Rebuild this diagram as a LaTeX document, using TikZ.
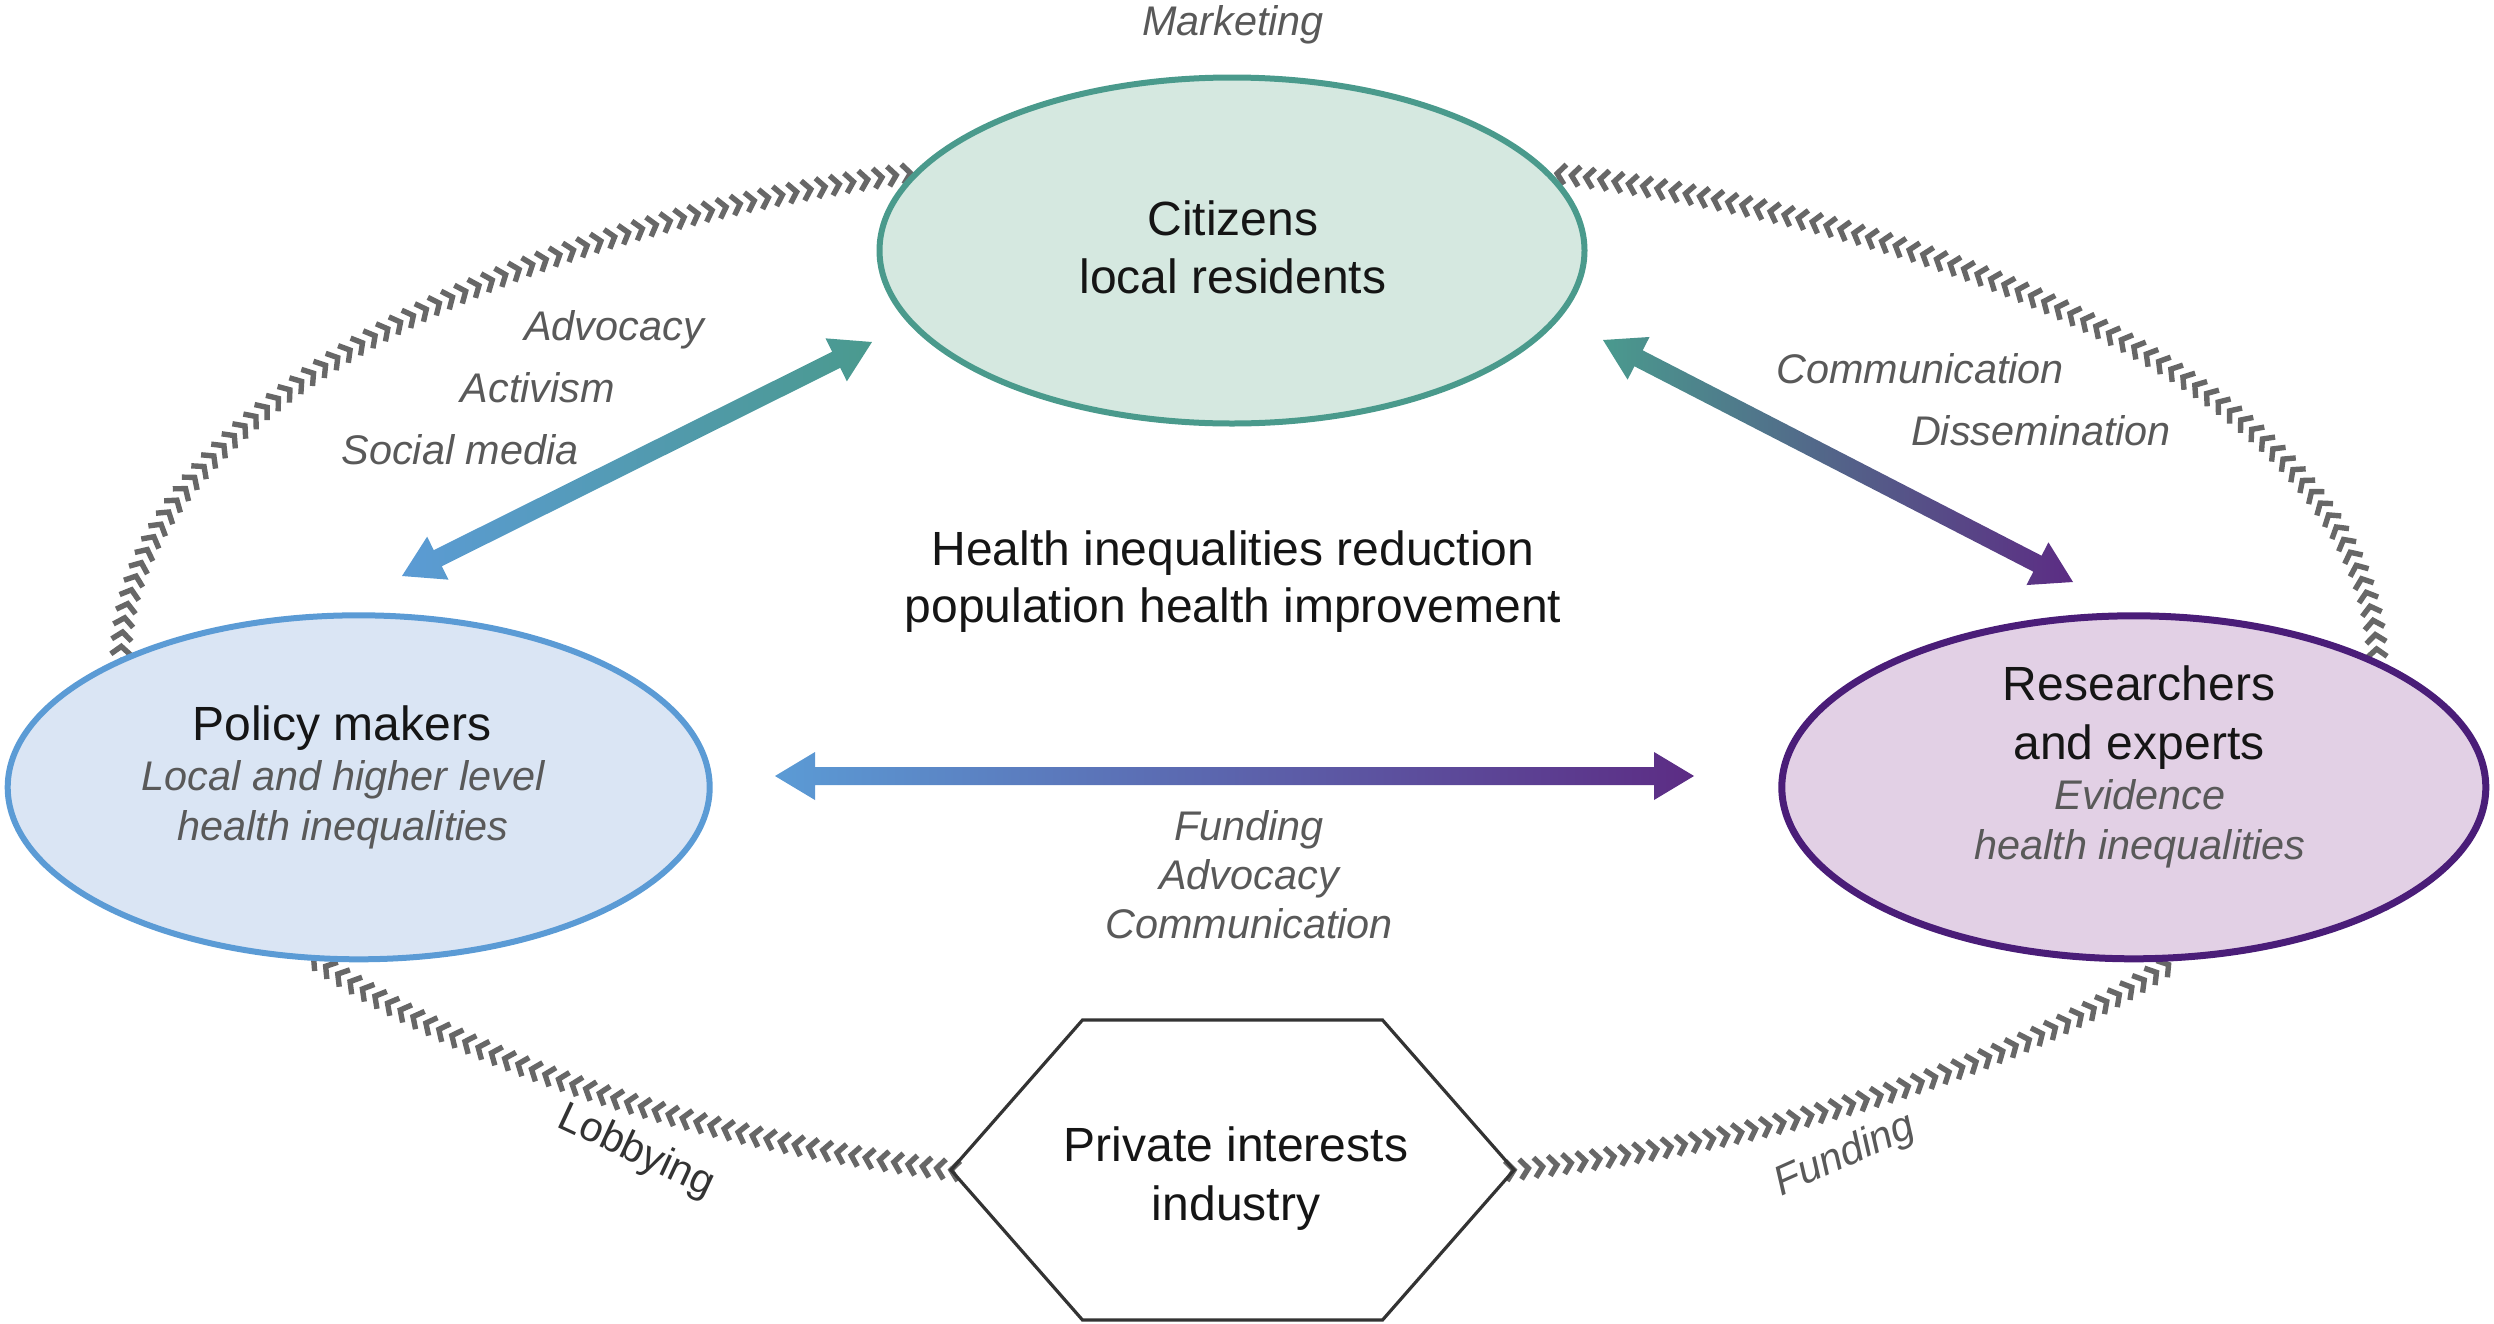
\documentclass[tikz,border=0pt]{standalone}
\usepackage{fontspec}
\setmainfont{Liberation Sans}
\usetikzlibrary{shapes.geometric,calc,decorations.markings,backgrounds}
\definecolor{citfill}{HTML}{D5E8E0}
\definecolor{citline}{HTML}{4A9A8C}
\definecolor{polfill}{HTML}{DAE5F4}
\definecolor{polline}{HTML}{5B9BD5}
\definecolor{resfill}{HTML}{E2D0E5}
\definecolor{resline}{HTML}{4A1D78}
\definecolor{arblue}{HTML}{5B9BD5}
\definecolor{arteal}{HTML}{4A9A8E}
\definecolor{arpurple}{HTML}{5C2C84}
\definecolor{chevgray}{HTML}{676767}
\definecolor{txtdark}{HTML}{151515}
\definecolor{lblgray}{HTML}{595959}
\definecolor{hexcol}{HTML}{333333}
\newcommand{\fatarrow}[4]{%
\shade[left color=#3,right color=#4]
 (#1) -- ($(#1)!20pt!(#2)!12pt!90:(#2)$) -- ($(#1)!20pt!(#2)!4.5pt!90:(#2)$)
 -- ($(#2)!20pt!(#1)!4.5pt!-90:(#1)$) -- ($(#2)!20pt!(#1)!12pt!-90:(#1)$)
 -- (#2) -- ($(#2)!20pt!(#1)!12pt!90:(#1)$) -- ($(#2)!20pt!(#1)!4.5pt!90:(#1)$)
 -- ($(#1)!20pt!(#2)!4.5pt!-90:(#2)$) -- ($(#1)!20pt!(#2)!12pt!-90:(#2)$) -- cycle;}
\begin{document}
\begin{tikzpicture}[x=0.5pt,y=-0.5pt,
  maintxt/.style={font=\fontsize{24}{29}\selectfont, text=txtdark, inner sep=0pt, anchor=base},
  lbl/.style={font=\fontsize{20.7}{25}\selectfont\itshape, text=lblgray, inner sep=0pt, anchor=base},
  bubble/.style={ellipse, draw, line width=3pt, inner sep=0pt, outer sep=0pt},
  chev/.style={postaction={decorate}, decoration={markings,
     mark=between positions 0 and 1 step 7.2pt with {\draw[draw=chevgray, line width=2.7pt, line join=miter, line cap=butt] (-4pt,5pt) -- (0pt,0pt) -- (-4pt,-5pt);}}}
]
\useasboundingbox (0,0) rectangle (2494,1323);
% main bubbles
\node[bubble, draw=citline, fill=citfill, minimum width=352.5pt, minimum height=173pt] (cit) at (1232,250.5) {};
\node[bubble, draw=polline, fill=polfill, minimum width=351pt, minimum height=172pt] (pol) at (358.7,787.3) {};
\node[bubble, draw=resline, fill=resfill, line width=3.5pt, minimum width=352pt, minimum height=171.5pt] (res) at (2133.8,787.3) {};
% hexagon
\coordinate (hexc) at (1232.5,1170);
\coordinate (hexL) at ($(hexc)+(-281.5,0)$);
\coordinate (hexR) at ($(hexc)+(281.5,0)$);
\draw[hexcol, line width=1.6pt, line join=miter] (hexL) -- ($(hexc)+(-150,-150)$) -- ($(hexc)+(150,-150)$) -- (hexR) -- ($(hexc)+(150,150)$) -- ($(hexc)+(-150,150)$) -- cycle;
% chevron flows
\begin{scope}[on background layer]
\path[chev] (pol.152.6) .. controls ($(pol.152.6)+(0,-226)$) and ($(cit.166)+(-476,64)$) .. (cit.166);
\path[chev] (res.27.3) .. controls ($(res.27.3)+(0,-230)$) and ($(cit.14.7)+(492,60)$) .. (cit.14.7);
\path[chev] (hexL) .. controls ($(hexL)+(-259,-32)$) and ($(pol.255)+(153,104)$) .. (pol.255);
\path[chev] (hexR) .. controls ($(hexR)+(271,-30.5)$) and ($(res.285)+(-158,107.5)$) .. (res.285);
\end{scope}
% gradient double arrows
\coordinate (l1) at (402,576); \coordinate (l2) at (872,342);
\coordinate (r1) at (1603,340); \coordinate (r2) at (2073,582);
\coordinate (h1) at (775,776); \coordinate (h2) at (1694,776);
\fatarrow{l1}{l2}{arblue}{arteal}
\fatarrow{r1}{r2}{arteal}{arpurple}
\fatarrow{h1}{h2}{arblue}{arpurple}
% texts
\node[maintxt] (citA) at (1233,235) {Citizens};
\node[maintxt] (citB) at (1233,293) {local residents};
\node[maintxt] (cenA) at (1233,565) {Health inequalities reduction};
\node[maintxt] (cenB) at (1233,622) {population health improvement};
\node[maintxt] (polA) at (342,740) {Policy makers};
\node[lbl] (polB) at (343,790) {Local and higher level};
\node[lbl] (polC) at (343,840) {health inequalities};
\node[maintxt] (resA) at (2139,700) {Researchers};
\node[maintxt] (resB) at (2139,759) {and experts};
\node[lbl] (resC) at (2140,809) {Evidence};
\node[lbl] (resD) at (2140,859) {health inequalities};
\node[maintxt] (hexA) at (1236,1161) {Private interests};
\node[maintxt] (hexB) at (1236,1220) {industry};
\node[lbl] (mkt) at (1233,35) {Marketing};
\node[lbl] (advA) at (614,340) {Advocacy};
\node[lbl] (advB) at (538,402) {Activism};
\node[lbl] (advC) at (460,464) {Social media};
\node[lbl] (comA) at (1920,383) {Communication};
\node[lbl] (comB) at (2041,445) {Dissemination};
\node[lbl] (funA) at (1249,840) {Funding};
\node[lbl] (funB) at (1249,889) {Advocacy};
\node[lbl] (funC) at (1249,938) {Communication};
\node[font=\fontsize{20.7}{25}\selectfont, text=hexcol, inner sep=0pt, rotate=-25] (lob) at (636,1152) {Lobbying};
\node[font=\fontsize{20.7}{25}\selectfont\itshape, text=lblgray, inner sep=0pt, rotate=24] (fund) at (1845,1156) {Funding};
\end{tikzpicture}
\end{document}
